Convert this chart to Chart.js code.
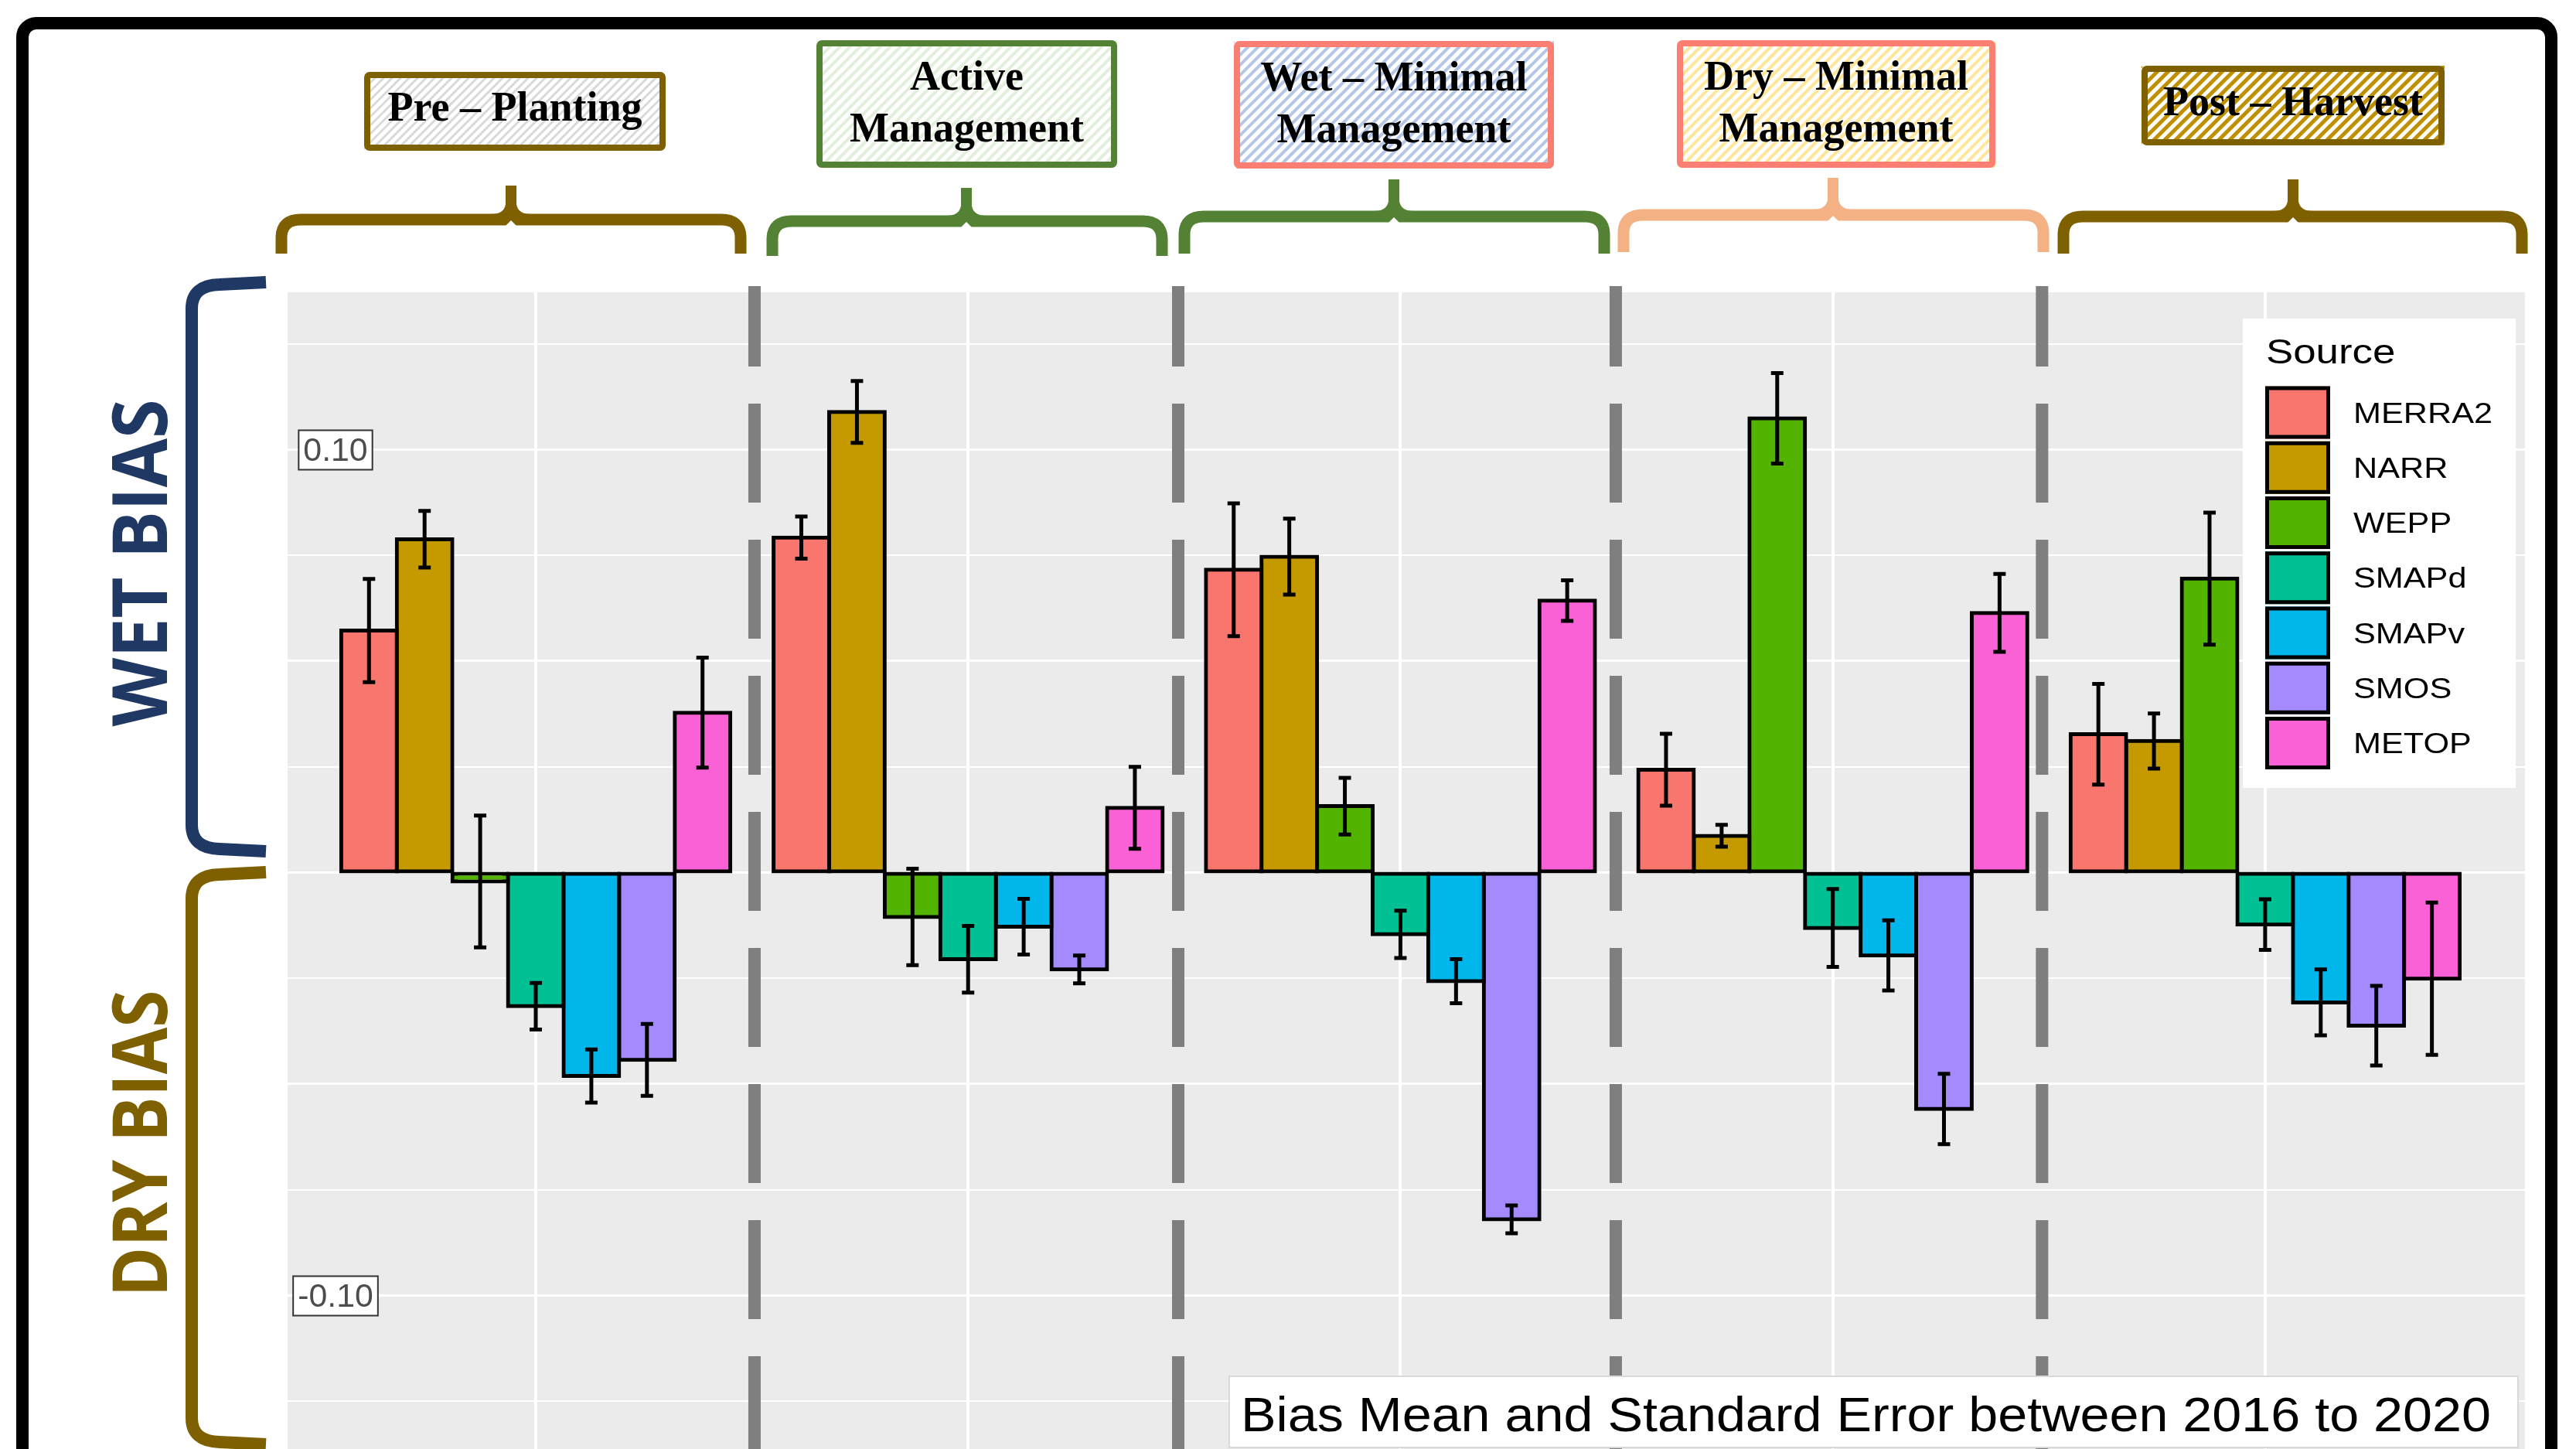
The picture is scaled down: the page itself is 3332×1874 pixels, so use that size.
<!DOCTYPE html>
<html>
<head>
<meta charset="utf-8">
<script src="https://cdn.jsdelivr.net/npm/chart.js@4.4.1/dist/chart.umd.min.js"></script>
<style>
html,body{margin:0;padding:0;background:#fff;overflow:hidden}
#wrap{width:3332px;height:1874px;position:relative}
</style>
</head>
<body>
<div id="wrap"><canvas id="c"></canvas></div>
<script>
// ---------------- DATA ----------------
const categories = ['Pre – Planting', 'Active Management', 'Wet – Minimal Management', 'Dry – Minimal Management', 'Post – Harvest'];
const sources = ['MERRA2', 'NARR', 'WEPP', 'SMAPd', 'SMAPv', 'SMOS', 'METOP'];

const merra2    = [0.0572, 0.0792, 0.0716, 0.0243, 0.0327];
const merra2Err = [0.0122, 0.0050, 0.0157, 0.0085, 0.0119];
const narr      = [0.0788, 0.1089, 0.0747, 0.0087, 0.0311];
const narrErr   = [0.0067, 0.0073, 0.0090, 0.0026, 0.0065];
const wepp      = [-0.0021, -0.0105, 0.0157, 0.1074, 0.0695];
const weppErr   = [0.0156, 0.0114, 0.0067, 0.0107, 0.0156];
const smapd     = [-0.0316, -0.0205, -0.0146, -0.0131, -0.0123];
const smapdErr  = [0.0055, 0.0079, 0.0056, 0.0092, 0.0060];
const smapv     = [-0.0481, -0.0128, -0.0257, -0.0196, -0.0307];
const smapvErr  = [0.0063, 0.0066, 0.0052, 0.0083, 0.0078];
const smos      = [-0.0443, -0.0229, -0.0820, -0.0559, -0.0362];
const smosErr   = [0.0085, 0.0033, 0.0033, 0.0083, 0.0094];
const metop     = [0.0378, 0.0153, 0.0643, 0.0614, -0.0251];
const metopErr  = [0.0130, 0.0097, 0.0048, 0.0092, 0.0180];

const yTickValues = [0.10, -0.10];
const yTickLabels = ['0.10', '-0.10'];
const headerLines = [['Pre – Planting'], ['Active', 'Management'], ['Wet – Minimal', 'Management'], ['Dry – Minimal', 'Management'], ['Post – Harvest']];
const captionText = 'Bias Mean and Standard Error between 2016 to 2020';
const legendTitle = 'Source';
const wetLabel = 'WET BIAS';
const dryLabel = 'DRY BIAS';

// ---------------- STYLE / LAYOUT ----------------
const seriesValues = [merra2, narr, wepp, smapd, smapv, smos, metop];
const seriesErrors = [merra2Err, narrErr, weppErr, smapdErr, smapvErr, smosErr, metopErr];
const barColors = ['#F8766D', '#C49A00', '#53B400', '#00C094', '#00B6EB', '#A58AFF', '#FB61D7'];

const X_MIN = -0.574, X_MAX = 4.601;
const Y_MIN = -0.13629, Y_MAX = 0.13720;
const Y_STEP = 0.025;
const separatorPositions = [0.506, 1.486, 2.498, 3.484];

const headerBoxes = [
  {x0: 471, x1: 861, y0: 93, y1: 195, border: '#7f6000', hatch: '#d9d9d9', hs: 11, hw: 3},
  {x0: 1056, x1: 1445, y0: 52, y1: 217, border: '#548235', hatch: '#e2efda', hs: 13, hw: 4},
  {x0: 1596, x1: 2010, y0: 53, y1: 218, border: '#fa7f72', hatch: '#b4c7e7', hs: 13, hw: 4},
  {x0: 2169, x1: 2581, y0: 52, y1: 217, border: '#fa7f72', hatch: '#ffe699', hs: 13, hw: 4},
  {x0: 2770, x1: 3162, y0: 85, y1: 188, border: '#7f6000', hatch: '#bf9000', hs: 14, hw: 5}
];
const braces = [
  {l: 357, r: 965, s: 661, top: 240, bar: 284, end: 328, color: '#7f6000'},
  {l: 992, r: 1510, s: 1250, top: 243, bar: 286, end: 331, color: '#548235'},
  {l: 1525, r: 2082, s: 1803, top: 232, bar: 280, end: 328, color: '#548235'},
  {l: 2093, r: 2650, s: 2371, top: 230, bar: 278, end: 326, color: '#f4b183'},
  {l: 2662, r: 3269, s: 2966, top: 232, bar: 280, end: 328, color: '#7f6000'}
];
const sideBrackets = [
  {x: 248, y0: 369, y1: 1097, arm: 344, color: '#203864', label: wetLabel, cx: 181, cy: 728, len: 423},
  {x: 248, y0: 1132, y1: 1864, arm: 344, color: '#7f6000', label: dryLabel, cx: 181, cy: 1479, len: 397}
];

// ---------------- HELPERS ----------------
function fitText(ctx, text, x, y, font, color, align, targetW, hscale) {
  ctx.save();
  ctx.font = font;
  ctx.fillStyle = color;
  const w = ctx.measureText(text).width;
  const sx = targetW ? targetW / w : (hscale || 1);
  ctx.translate(x, y);
  ctx.scale(sx, 1);
  ctx.textAlign = align || 'left';
  ctx.textBaseline = 'alphabetic';
  ctx.fillText(text, 0, 0);
  ctx.restore();
}

const decorPlugin = {
  id: 'decor',
  beforeDraw(chart) {
    const ctx = chart.ctx, a = chart.chartArea;
    ctx.save();
    ctx.fillStyle = '#ffffff';
    ctx.fillRect(0, 0, chart.width, chart.height);
    ctx.strokeStyle = '#000';
    ctx.lineWidth = 16;
    ctx.beginPath();
    ctx.roundRect(29, 30, 3271, 2000, 18);
    ctx.stroke();
    ctx.fillStyle = '#ebebeb';
    ctx.fillRect(a.left, a.top, a.right - a.left, a.bottom - a.top);
    ctx.restore();
  },
  beforeDatasetsDraw(chart) {
    const ctx = chart.ctx, xs = chart.scales.x, a = chart.chartArea;
    ctx.save();
    ctx.strokeStyle = '#7f7f7f';
    ctx.lineWidth = 16;
    ctx.setLineDash([128, 48]);
    ctx.lineDashOffset = 24;
    separatorPositions.forEach(p => {
      const x = xs.getPixelForValue(p);
      ctx.beginPath();
      ctx.moveTo(x, a.top - 8);
      ctx.lineTo(x, a.bottom + 10);
      ctx.stroke();
    });
    ctx.restore();
  },
  afterDatasetsDraw(chart) {
    const ctx = chart.ctx, ys = chart.scales.y;
    ctx.save();
    ctx.strokeStyle = '#000';
    ctx.lineWidth = 5;
    chart.data.datasets.forEach((ds, d) => {
      const meta = chart.getDatasetMeta(d);
      meta.data.forEach((bar, i) => {
        const v = ds.data[i].y, e = ds.errors[i];
        const yT = ys.getPixelForValue(v + e), yB = ys.getPixelForValue(v - e);
        const x = bar.x;
        ctx.beginPath();
        ctx.moveTo(x, yT); ctx.lineTo(x, yB);
        ctx.moveTo(x - 8, yT); ctx.lineTo(x + 8, yT);
        ctx.moveTo(x - 8, yB); ctx.lineTo(x + 8, yB);
        ctx.stroke();
      });
    });
    ctx.restore();
  },
  afterDraw(chart) {
    const ctx = chart.ctx, a = chart.chartArea, ys = chart.scales.y;
    ctx.save();
    yTickValues.forEach((v, k) => {
      const y = ys.getPixelForValue(v);
      ctx.font = '42px "Liberation Sans"';
      const txt = yTickLabels[k];
      const w = ctx.measureText(txt).width * 1.02;
      const cx = a.left + 62;
      const bx = cx - w / 2 - 6, bw = w + 12;
      ctx.fillStyle = '#fff';
      ctx.fillRect(bx, y - 25, bw, 51);
      ctx.strokeStyle = '#333';
      ctx.lineWidth = 2;
      ctx.strokeRect(bx, y - 25, bw, 51);
      fitText(ctx, txt, cx, y + 15, '42px "Liberation Sans"', '#4d4d4d', 'center', null, 1.02);
    });
    ctx.restore();

    headerBoxes.forEach((b, i) => {
      const bw = 8;
      ctx.save();
      ctx.fillStyle = '#fff';
      ctx.fillRect(b.x0, b.y0, b.x1 - b.x0, b.y1 - b.y0);
      ctx.beginPath();
      ctx.rect(b.x0, b.y0, b.x1 - b.x0, b.y1 - b.y0);
      ctx.clip();
      ctx.strokeStyle = b.hatch;
      ctx.lineWidth = b.hw;
      const h = b.y1 - b.y0;
      for (let x = b.x0 - h; x < b.x1 + h; x += b.hs) {
        ctx.beginPath();
        ctx.moveTo(x, b.y1);
        ctx.lineTo(x + h, b.y0);
        ctx.stroke();
      }
      ctx.restore();
      ctx.save();
      ctx.strokeStyle = b.border;
      ctx.lineWidth = bw;
      ctx.beginPath();
      ctx.roundRect(b.x0 + bw / 2, b.y0 + bw / 2, b.x1 - b.x0 - bw, b.y1 - b.y0 - bw, 3);
      ctx.stroke();
      ctx.restore();
      const cx = (b.x0 + b.x1) / 2, cy = (b.y0 + b.y1) / 2;
      const lines = headerLines[i];
      const font = 'bold 54px "Liberation Serif"';
      if (lines.length === 1) {
        fitText(ctx, lines[0], cx, cy + 12, font, '#000', 'center');
      } else {
        fitText(ctx, lines[0], cx, cy - 18.5, font, '#000', 'center');
        fitText(ctx, lines[1], cx, cy + 48.5, font, '#000', 'center');
      }
    });

    braces.forEach(b => {
      ctx.save();
      ctx.strokeStyle = b.color;
      ctx.fillStyle = b.color;
      ctx.lineWidth = 15;
      ctx.lineCap = 'butt';
      ctx.beginPath();
      ctx.moveTo(b.l + 7, b.end);
      ctx.lineTo(b.l + 7, b.bar + 22);
      ctx.quadraticCurveTo(b.l + 8, b.bar, b.l + 32, b.bar);
      ctx.lineTo(b.r - 32, b.bar);
      ctx.quadraticCurveTo(b.r - 8, b.bar, b.r - 7, b.bar + 22);
      ctx.lineTo(b.r - 7, b.end);
      ctx.stroke();
      ctx.beginPath();
      ctx.moveTo(b.s - 7, b.top);
      ctx.lineTo(b.s + 7, b.top);
      ctx.lineTo(b.s + 7, b.bar - 20);
      ctx.quadraticCurveTo(b.s + 9, b.bar - 7, b.s + 26, b.bar - 7);
      ctx.lineTo(b.s - 26, b.bar - 7);
      ctx.quadraticCurveTo(b.s - 9, b.bar - 7, b.s - 7, b.bar - 20);
      ctx.closePath();
      ctx.fill();
      ctx.fillStyle = '#fff';
      ctx.beginPath();
      ctx.moveTo(b.s - 7, b.bar + 8);
      ctx.lineTo(b.s, b.bar + 1);
      ctx.lineTo(b.s + 7, b.bar + 8);
      ctx.closePath();
      ctx.fill();
      ctx.restore();
    });

    sideBrackets.forEach(s => {
      ctx.save();
      ctx.strokeStyle = s.color;
      ctx.lineWidth = 16;
      ctx.beginPath();
      ctx.moveTo(s.arm, s.y0 - 4);
      ctx.lineTo(s.x + 36, s.y0 - 1);
      ctx.quadraticCurveTo(s.x, s.y0, s.x, s.y0 + 30);
      ctx.lineTo(s.x, s.y1 - 30);
      ctx.quadraticCurveTo(s.x, s.y1, s.x + 36, s.y1 + 1);
      ctx.lineTo(s.arm, s.y1 + 4);
      ctx.stroke();
      ctx.restore();
      ctx.save();
      ctx.translate(s.cx, s.cy);
      ctx.rotate(-Math.PI / 2);
      fitText(ctx, s.label, 0, 35, 'bold 98px "Open Sans"', s.color, 'center', s.len);
      ctx.restore();
    });

    ctx.save();
    ctx.fillStyle = '#fff';
    ctx.fillRect(2901, 412, 353, 607);
    fitText(ctx, legendTitle, 2931, 470, '44px "Liberation Sans"', '#000', 'left', null, 1.2);
    chart.data.datasets.forEach((ds, k) => {
      const y0 = 499.5 + k * 71.25;
      ctx.fillStyle = ds.backgroundColor;
      ctx.fillRect(2930, y0, 84, 68);
      ctx.strokeStyle = '#000';
      ctx.lineWidth = 5;
      ctx.strokeRect(2932.5, y0 + 2.5, 79, 63);
      fitText(ctx, ds.label, 3044, y0 + 34 + 13, '36px "Liberation Sans"', '#000', 'left', null, 1.2);
    });
    ctx.restore();

    ctx.save();
    ctx.fillStyle = '#fff';
    ctx.fillRect(1590, 1780, 1667, 92);
    ctx.strokeStyle = '#d9d9d9';
    ctx.lineWidth = 2;
    ctx.strokeRect(1590, 1780, 1667, 92);
    fitText(ctx, captionText, 1605, 1851, '63px "Liberation Sans"', '#000', 'left', 1617);
    ctx.restore();
  }
};

// ---------------- CHART ----------------
const datasets = sources.map((s, k) => ({
  label: s,
  data: seriesValues[k].map((v, i) => ({x: i, y: v})),
  errors: seriesErrors[k],
  backgroundColor: barColors[k],
  borderColor: '#000000',
  borderWidth: 5,
  borderSkipped: false,
  inflateAmount: 2.5,
  categoryPercentage: 0.9,
  barPercentage: 1.0
}));

const yGrid = [];
for (let k = -5; k <= 5; k++) yGrid.push(Math.round(k * Y_STEP * 1000) / 1000);

new Chart(document.getElementById('c'), {
  type: 'bar',
  data: {datasets},
  options: {
    responsive: true,
    maintainAspectRatio: false,
    animation: false,
    devicePixelRatio: 1,
    layout: {padding: {left: 372, right: 66, top: 378, bottom: 0}},
    plugins: {legend: {display: false}, tooltip: {enabled: false}},
    scales: {
      x: {
        type: 'linear', min: X_MIN, max: X_MAX, offset: false,
        grid: {color: '#ffffff', lineWidth: 4, drawTicks: false, offset: false},
        border: {display: false},
        ticks: {display: false, stepSize: 1},
        afterBuildTicks: sc => { sc.ticks = categories.map((c, i) => ({value: i})); }
      },
      y: {
        type: 'linear', min: Y_MIN, max: Y_MAX,
        grid: {
          color: '#ffffff', drawTicks: false,
          lineWidth: c => (Math.abs(c.tick.value * 20 - Math.round(c.tick.value * 20)) < 1e-6 ? 3 : 2)
        },
        border: {display: false},
        ticks: {display: false, stepSize: Y_STEP},
        afterBuildTicks: sc => { sc.ticks = yGrid.map(v => ({value: v})); }
      }
    }
  },
  plugins: [decorPlugin]
});
</script>
</body>
</html>
